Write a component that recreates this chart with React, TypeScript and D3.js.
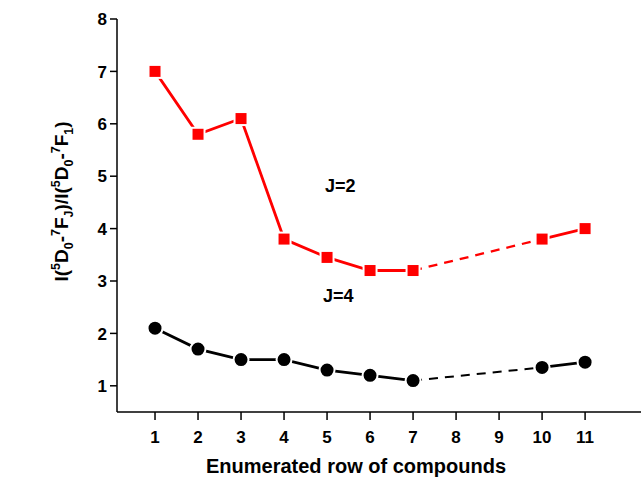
import React from 'react';
import * as d3 from 'd3';

const xTicks = [1, 2, 3, 4, 5, 6, 7, 8, 9, 10, 11];
const yTicks = [1, 2, 3, 4, 5, 6, 7, 8];

const compounds = [1, 2, 3, 4, 5, 6, 7, 10, 11];
const j2Values = [7.0, 5.8, 6.1, 3.8, 3.45, 3.2, 3.2, 3.8, 4.0];
const j4Values = [2.1, 1.7, 1.5, 1.5, 1.3, 1.2, 1.1, 1.35, 1.45];

const W = 641;
const H = 478;
const margin = { left: 117, top: 19, right: 0, bottom: 66 };

const App = () => {
  const x = d3.scaleLinear().domain([0.116, 12.3]).range([margin.left, margin.left + 524]);
  const y = d3.scaleLinear().domain([0.5, 8]).range([H - margin.bottom, margin.top]);

  const line = d3
    .line<[number, number]>()
    .x((d) => x(d[0]))
    .y((d) => y(d[1]));

  const pts = (vals: number[]) => compounds.map((c, i) => [c, vals[i]] as [number, number]);
  // solid segments for 1..7 and 10..11, dashed across the gap
  const parts = (vals: number[]) => {
    const p = pts(vals);
    return { a: p.slice(0, 7), gap: p.slice(6, 8), b: p.slice(7) };
  };
  const red = parts(j2Values);
  const blk = parts(j4Values);
  const font = 'Arial, "Liberation Sans", sans-serif';
  const x0 = y.range()[0];
  const sub = 12.5;

  return (
    <svg width={W} height={H} style={{ position: 'absolute', left: 0, top: 0 }} fontFamily={font} fontWeight="bold">
      <rect width={W} height={H} fill="#fff" />
      {/* axes */}
      <line x1={margin.left} x2={margin.left} y1={y(8)} y2={x0} stroke="#000" strokeWidth={1.5} />
      <line x1={margin.left} x2={W} y1={x0} y2={x0} stroke="#000" strokeWidth={1.5} />
      {yTicks.map((t) => (
        <g key={t}>
          <line x1={margin.left - 7} x2={margin.left} y1={y(t)} y2={y(t)} stroke="#000" strokeWidth={1.5} />
          <text x={margin.left - 10} y={y(t)} dy="0.36em" textAnchor="end" fontSize={17}>{t}</text>
        </g>
      ))}
      {xTicks.map((t) => (
        <g key={t}>
          <line x1={x(t)} x2={x(t)} y1={x0} y2={x0 + 8} stroke="#000" strokeWidth={1.5} />
          <text x={x(t)} y={x0 + 31} textAnchor="middle" fontSize={17}>{t}</text>
        </g>
      ))}
      <text x={356} y={473} textAnchor="middle" fontSize={20}>Enumerated row of compounds</text>
      <text transform={`translate(68,${(y(8) + x0) / 2 - 14}) rotate(-90)`} textAnchor="middle" fontSize={19}>
        I(<tspan dy={-8} fontSize={sub}>5</tspan><tspan dy={8}>D</tspan><tspan dy={5} fontSize={sub}>0</tspan>
        <tspan dy={-5}>-</tspan><tspan dy={-8} fontSize={sub}>7</tspan><tspan dy={8}>F</tspan>
        <tspan dy={5} fontSize={sub}>J</tspan><tspan dy={-5}>)/I(</tspan>
        <tspan dy={-8} fontSize={sub}>5</tspan><tspan dy={8}>D</tspan><tspan dy={5} fontSize={sub}>0</tspan>
        <tspan dy={-5}>-</tspan><tspan dy={-8} fontSize={sub}>7</tspan><tspan dy={8}>F</tspan>
        <tspan dy={5} fontSize={sub}>1</tspan><tspan dy={-5}>)</tspan>
      </text>

      {/* J=2 series */}
      <path d={line(red.a) ?? ''} fill="none" stroke="#ff0000" strokeWidth={2.8} />
      <path d={line(red.gap) ?? ''} fill="none" stroke="#ff0000" strokeWidth={2.3} strokeDasharray="9,7" />
      <path d={line(red.b) ?? ''} fill="none" stroke="#ff0000" strokeWidth={2.8} />
      {pts(j2Values).map(([c, v]) => (
        <rect key={c} x={x(c) - 6.5} y={y(v) - 6.5} width={13} height={13} fill="#ff0000" stroke="#fff" strokeWidth={2} />
      ))}

      {/* J=4 series */}
      <path d={line(blk.a) ?? ''} fill="none" stroke="#000" strokeWidth={2.8} />
      <path d={line(blk.gap) ?? ''} fill="none" stroke="#000" strokeWidth={2} strokeDasharray="9,7" />
      <path d={line(blk.b) ?? ''} fill="none" stroke="#000" strokeWidth={2.8} />
      {pts(j4Values).map(([c, v]) => (
        <circle key={c} cx={x(c)} cy={y(v)} r={7.5} fill="#000" stroke="#fff" strokeWidth={2} />
      ))}

      <text x={325} y={192} fontSize={18}>J=2</text>
      <text x={323} y={302} fontSize={18}>J=4</text>
    </svg>
  );
};

export default App;
